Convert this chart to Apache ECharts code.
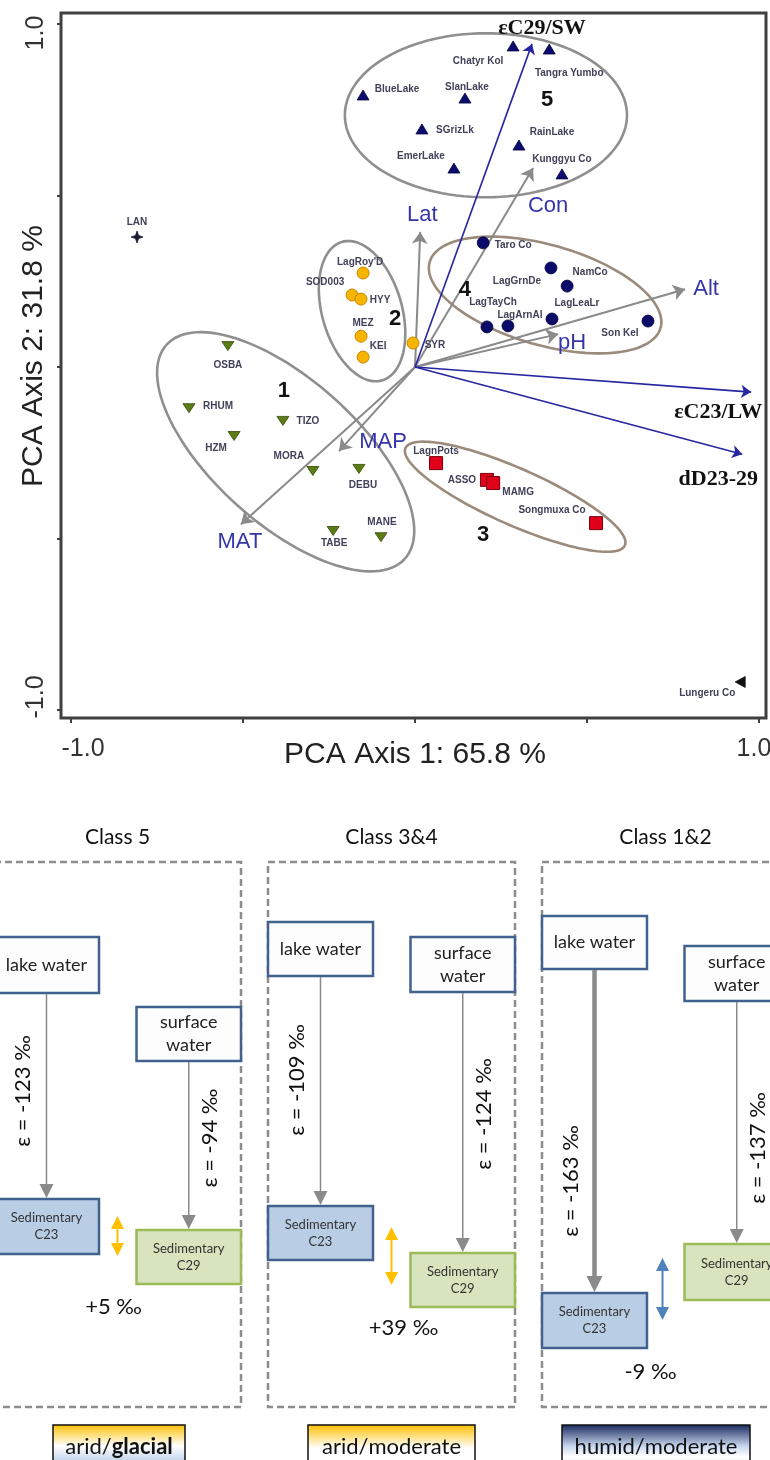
<!DOCTYPE html>
<html>
<head>
<meta charset="utf-8">
<script src="https://cdn.jsdelivr.net/npm/echarts@6/dist/echarts.min.js"></script>
<style>
  html, body { margin: 0; padding: 0; background: #fff; }
  #c { width: 770px; height: 1460px; }
</style>
</head>
<body>
<div id="c"></div>
<script>
// ---------- PCA sample scores (axis 1, axis 2) ----------
const class5Names = ['Chatyr Kol', 'Tangra Yumbo', 'BlueLake', 'SlanLake', 'SGrizLk', 'EmerLake', 'RainLake', 'Kunggyu Co'];
const class5Scores = [[0.285, 0.936], [0.390, 0.927], [-0.151, 0.793], [0.145, 0.784], [0.020, 0.694], [0.113, 0.580], [0.302, 0.647], [0.427, 0.563]];

const class2Names = ["LagRoy'D", 'SOD003', 'HYY', 'MEZ', 'KEI', 'SYR'];
const class2Scores = [[-0.151, 0.274], [-0.183, 0.210], [-0.157, 0.198], [-0.157, 0.090], [-0.151, 0.029], [-0.006, 0.070]];

const class4Names = ['Taro Co', 'LagGrnDe', 'NamCo', 'LagTayCh', 'LagArnAl', 'LagLeaLr', 'Son Kel'];
const class4Scores = [[0.198, 0.362], [0.395, 0.289], [0.442, 0.236], [0.209, 0.117], [0.270, 0.120], [0.398, 0.140], [0.677, 0.134]];

const class1Names = ['OSBA', 'RHUM', 'HZM', 'TIZO', 'MORA', 'DEBU', 'TABE', 'MANE'];
const class1Scores = [[-0.544, 0.061], [-0.657, -0.120], [-0.526, -0.201], [-0.384, -0.157], [-0.297, -0.303], [-0.163, -0.297], [-0.238, -0.478], [-0.099, -0.496]];

const class3Names = ['LagnPots', 'ASSO', 'MAMG', 'Songmuxa Co'];
const class3Scores = [[0.061, -0.280], [0.209, -0.329], [0.227, -0.338], [0.526, -0.455]];

const otherNames = ['LAN', 'Lungeru Co'];
const otherScores = [[-0.808, 0.379], [0.945, -0.918]];

// ---------- variable loadings ----------
const envNames = ['Lat', 'Con', 'Alt', 'pH', 'MAP', 'MAT'];
const envLoadings = [[0.015, 0.394], [0.343, 0.580], [0.785, 0.227], [0.416, 0.096], [-0.221, -0.245], [-0.506, -0.458]];
const isoNames = ['εC29/SW', 'εC23/LW', 'dD23-29'];
const isoLoadings = [[0.340, 0.942], [0.977, -0.073], [0.951, -0.254]];

// ---------- class envelopes: centre, semi-axes, tilt (deg) ----------
const clusterNames = ['1', '2', '3', '4', '5'];
const clusterCentres = [[-0.376, -0.247], [-0.154, 0.163], [0.291, -0.378], [0.378, 0.210], [0.206, 0.734]];
const clusterAxes = [[0.466, 0.210], [0.210, 0.116], [0.349, 0.082], [0.349, 0.146], [0.410, 0.239]];
const clusterAngles = [-42, 106, -24, -16, 0];
const clusterLabelAt = [[-0.381, -0.070], [-0.058, 0.140], [0.198, -0.490], [0.145, 0.224], [0.384, 0.778]];

// ---------- axis ticks ----------
const tickValues = [-1, -0.5, 0, 0.5, 1];
const tickText = { '-1': '-1.0', '1': '1.0' };

// ---------- fractionation scheme ----------
const classTitles = ['Class 5', 'Class 3&4', 'Class 1&2'];
const epsLake = [-123, -109, -163];
const epsSurface = [-94, -124, -137];
const offsetC23C29 = [5, 39, -9];
const climateMoisture = ['arid/', 'arid/', 'humid/'];
const climateTemp = ['glacial', 'moderate', 'moderate'];

// ---------- layout helpers (pixel nudges for text) ----------
const labelNudge = {
  'Chatyr Kol': [-35, 15], 'Tangra Yumbo': [20, 24], 'BlueLake': [34, -6], 'SlanLake': [2, -11],
  'SGrizLk': [33, 1], 'EmerLake': [-33, -12], 'RainLake': [33, -13], 'Kunggyu Co': [0, -15],
  "LagRoy'D": [-3, -11], 'SOD003': [-27, -13], 'HYY': [19, 1], 'MEZ': [2, -13], 'KEI': [15, -11], 'SYR': [22, 2],
  'Taro Co': [30, 2], 'LagGrnDe': [-34, 13], 'NamCo': [23, -14], 'LagTayCh': [6, -25], 'LagArnAl': [12, -11],
  'LagLeaLr': [25, -16], 'Son Kel': [-28, 12],
  'OSBA': [0, 19], 'RHUM': [29, -2], 'HZM': [-18, 12], 'TIZO': [25, 0], 'MORA': [-24, -15], 'DEBU': [4, 16],
  'TABE': [1, 12], 'MANE': [1, -15],
  'LagnPots': [0, -12], 'ASSO': [-25, 0], 'MAMG': [25, 9], 'Songmuxa Co': [-44, -13],
  'LAN': [0, -15], 'Lungeru Co': [-33, 11]
};
const loadLabelNudge = {
  'Lat': [2, -17], 'Con': [15, 38], 'Alt': [21, 0], 'pH': [14, 9], 'MAP': [44, -9], 'MAT': [-1, 18],
  'εC29/SW': [10, -16], 'εC23/LW': [-33, 20], 'dD23-29': [-24, 25]
};
const clusterStroke = ['#8f8f8f', '#8f8f8f', '#9c8a7a', '#9c8a7a', '#8f8f8f'];

// vertical placement of the scheme elements (units below the top of the strip)
const panelRows = [
  { lake: [137, 193], surf: [207, 261], c23: [399, 454], c29: [430, 484], dbl: [416, 456], dblX: 0,  off: [-4, 507],  epsLakeY: 291, epsSurfY: 338, lakeW: 1.5, dblColor: '#ffc000', climX: 1.5, climW: 132, climGrad: [['#ffc000', 0], ['#ffffff', 0.5], ['#a9c2e4', 1]] },
  { lake: [122, 176], surf: [137, 192], c23: [406, 460], c29: [453, 507], dbl: [427, 485], dblX: 0,  off: [12, 528],  epsLakeY: 280, epsSurfY: 314, lakeW: 1.5, dblColor: '#ffc000', climX: 0, climW: 167, climGrad: [['#ffc000', 0], ['#ffffff', 0.55], ['#ffffff', 1]] },
  { lake: [116, 169], surf: [146, 201], c23: [493, 548], c29: [444, 500], dbl: [458, 520], dblX: -3, off: [-15, 572], epsLakeY: 381, epsSurfY: 348, lakeW: 4.5, dblColor: '#4f81bd', climX: -9.5, climW: 188, climGrad: [['#16255a', 0], ['#c6d6ee', 0.5], ['#ffffff', 0.75], ['#dbe6f4', 1]] }
];

const SANS = 'Liberation Sans';
const CAL = 'Lato';

function sampleSeries(names, scores, opts) {
  return {
    type: 'scatter', xAxisIndex: 0, yAxisIndex: 0, z: 5,
    symbol: opts.symbol, symbolSize: opts.size, symbolRotate: opts.rotate || 0,
    itemStyle: { color: opts.fill, borderColor: opts.edge, borderWidth: opts.edgeW || 0.8, opacity: 1 },
    label: {
      show: true, position: 'inside', formatter: '{b}', fontSize: 10, fontWeight: 'bold',
      fontFamily: SANS, color: '#41415a', align: 'center', verticalAlign: 'middle'
    },
    emphasis: { disabled: true },
    data: names.map((n, i) => ({ name: n, value: scores[i], label: { offset: labelNudge[n] || [0, 0] } }))
  };
}

function renderCluster(params, api) {
  const i = params.dataIndex;
  const c = clusterCentres[i], ax = clusterAxes[i], th = clusterAngles[i] * Math.PI / 180;
  const pts = [];
  for (let k = 0; k <= 120; k++) {
    const t = k / 120 * 2 * Math.PI;
    const u = ax[0] * Math.cos(t), v = ax[1] * Math.sin(t);
    pts.push(api.coord([c[0] + u * Math.cos(th) - v * Math.sin(th), c[1] + u * Math.sin(th) + v * Math.cos(th)]));
  }
  return { type: 'polyline', shape: { points: pts }, style: { fill: null, stroke: clusterStroke[i], lineWidth: 2.6 } };
}

function renderClusterLabel(params, api) {
  const p = api.coord([api.value(0), api.value(1)]);
  return { type: 'text', x: p[0], y: p[1], style: { text: clusterNames[params.dataIndex], fontSize: 22, fontWeight: 'bold', fontFamily: SANS, fill: '#111', align: 'center', verticalAlign: 'middle' } };
}

function loadLabelSeries(names, loads, style) {
  return {
    type: 'custom', coordinateSystem: 'cartesian2d', xAxisIndex: 0, yAxisIndex: 0, z: 6, silent: true,
    data: loads.map(p => [p[0], p[1]]),
    renderItem: (params, api) => {
      const n = names[params.dataIndex];
      const p = api.coord([api.value(0), api.value(1)]);
      const d = loadLabelNudge[n];
      return { type: 'text', x: p[0] + d[0], y: p[1] + d[1], style: Object.assign({ text: n, align: 'center', verticalAlign: 'middle' }, style) };
    }
  };
}

function renderPanel(params, api) {
  const i = params.dataIndex;
  const r = panelRows[i];
  const cx = api.coord([i, 0])[0];
  const Y = v => api.coord([i, v])[1];
  const kids = [];
  const text = (x, y, t, size, opt) => kids.push({
    type: 'text', x, y, rotation: (opt && opt.rot) || 0,
    style: { text: t, fontSize: size, fontFamily: CAL, fontWeight: (opt && opt.weight) || 'normal', fill: (opt && opt.fill) || '#111', align: 'center', verticalAlign: 'middle' }
  });
  const rect = (x, y, w, h, fill, stroke, lw, dash) => kids.push({
    type: 'rect', shape: { x, y, width: w, height: h },
    style: { fill, stroke, lineWidth: lw, lineDash: dash || null }
  });
  const down = (x, yFrom, yTip, w, color, hw, hh) => {
    kids.push({ type: 'line', shape: { x1: x, y1: yFrom, x2: x, y2: yTip - hh + 1 }, style: { stroke: color, lineWidth: w } });
    kids.push({ type: 'polygon', shape: { points: [[x - hw, yTip - hh], [x + hw, yTip - hh], [x, yTip]] }, style: { fill: color } });
  };

  // title and dashed frame
  text(cx, Y(37), classTitles[i], 21);
  rect(cx - 123.5, Y(62), 247, Y(607) - Y(62), null, '#8c8c8c', 2.5, [7, 4]);

  const lx = cx - 123.5, lw = 105, sx = cx + 19, sw = 104.5;
  // water sources
  rect(lx, Y(r.lake[0]), lw, Y(r.lake[1]) - Y(r.lake[0]), '#fdfdfd', '#41618f', 2.5);
  text(lx + lw / 2, (Y(r.lake[0]) + Y(r.lake[1])) / 2, 'lake water', 18, { fill: '#222' });
  rect(sx, Y(r.surf[0]), sw, Y(r.surf[1]) - Y(r.surf[0]), '#fdfdfd', '#41618f', 2.5);
  const sMid = (Y(r.surf[0]) + Y(r.surf[1])) / 2;
  text(sx + sw / 2, sMid - 11.5, 'surface', 18, { fill: '#222' });
  text(sx + sw / 2, sMid + 11.5, 'water', 18, { fill: '#222' });

  // fractionation arrows
  down(lx + lw / 2, Y(r.lake[1]) + 1, Y(r.c23[0]) - 1, r.lakeW, '#8a8a8a', r.lakeW > 2 ? 8 : 7, r.lakeW > 2 ? 16 : 14);
  down(sx + sw / 2, Y(r.surf[1]) + 1, Y(r.c29[0]) - 1, 1.5, '#8a8a8a', 7, 14);

  // sedimentary n-alkanes
  rect(lx, Y(r.c23[0]), lw, Y(r.c23[1]) - Y(r.c23[0]), '#b9cde5', '#41618f', 2.5);
  const aMid = (Y(r.c23[0]) + Y(r.c23[1])) / 2;
  text(lx + lw / 2, aMid - 8.5, 'Sedimentary', 13, { fill: '#333' });
  text(lx + lw / 2, aMid + 8.5, 'C23', 13, { fill: '#333' });
  rect(sx, Y(r.c29[0]), sw, Y(r.c29[1]) - Y(r.c29[0]), '#d7e4bd', '#9bbb59', 2.5);
  const bMid = (Y(r.c29[0]) + Y(r.c29[1])) / 2;
  text(sx + sw / 2, bMid - 8.5, 'Sedimentary', 13, { fill: '#333' });
  text(sx + sw / 2, bMid + 8.5, 'C29', 13, { fill: '#333' });

  // offset between C23 and C29
  const dx = cx + r.dblX, d0 = Y(r.dbl[0]), d1 = Y(r.dbl[1]);
  kids.push({ type: 'line', shape: { x1: dx, y1: d0 + 12, x2: dx, y2: d1 - 12 }, style: { stroke: r.dblColor, lineWidth: 2 } });
  kids.push({ type: 'polygon', shape: { points: [[dx - 6.5, d0 + 13], [dx + 6.5, d0 + 13], [dx, d0]] }, style: { fill: r.dblColor } });
  kids.push({ type: 'polygon', shape: { points: [[dx - 6.5, d1 - 13], [dx + 6.5, d1 - 13], [dx, d1]] }, style: { fill: r.dblColor } });
  const off = offsetC23C29[i];
  text(cx + r.off[0], Y(r.off[1]), (off > 0 ? '+' : '') + off + ' ‰', 22);

  // epsilon values
  text(cx - 95, Y(r.epsLakeY), 'ε = ' + epsLake[i] + ' ‰', 22, { rot: Math.PI / 2 });
  text(cx + 92, Y(r.epsSurfY), 'ε = ' + epsSurface[i] + ' ‰', 22, { rot: Math.PI / 2 });

  // climate tag
  const cw = r.climW, ctop = Y(625);
  kids.push({
    type: 'rect', shape: { x: cx + r.climX - cw / 2, y: ctop, width: cw, height: 42 },
    style: {
      fill: new echarts.graphic.LinearGradient(0, 0, 0, 1, r.climGrad.map(g => ({ offset: g[1], color: g[0] }))),
      stroke: '#111', lineWidth: 1.5
    }
  });
  kids.push({
    type: 'text', x: cx + r.climX, y: Y(647),
    style: {
      text: '{a|' + climateMoisture[i] + '}{' + (i === 0 ? 'b' : 'a') + '|' + climateTemp[i] + '}',
      align: 'center', verticalAlign: 'middle',
      rich: {
        a: { fontSize: 22, fontFamily: CAL, fill: '#111' },
        b: { fontSize: 22, fontFamily: CAL, fontWeight: 'bold', fill: '#111' }
      }
    }
  });
  return { type: 'group', children: kids };
}

const axisFontX = { fontSize: 25, fontFamily: SANS, color: '#333' };

const option = {
  animation: false,
  backgroundColor: '#fff',
  grid: [
    { left: 61, right: 4, top: 13, bottom: 742, show: true, borderColor: '#404040', borderWidth: 3, backgroundColor: 'transparent', containLabel: false, outerBoundsMode: 'none' },
    { left: 71, right: 11, top: 24, bottom: 750, containLabel: false, outerBoundsMode: 'none' },
    { left: 0, right: 0, top: 800, bottom: 0, containLabel: false, outerBoundsMode: 'none' }
  ],
  xAxis: [
    { gridIndex: 0, type: 'value', min: -1.029, max: 1.020, show: false },
    {
      gridIndex: 1, type: 'value', min: tickValues[0], max: tickValues[tickValues.length - 1], interval: 0.5,
      offset: 8, position: 'bottom',
      axisLine: { show: false, onZero: false }, splitLine: { show: false },
      axisTick: { show: true, length: 5, lineStyle: { color: '#404040', width: 2 } },
      axisLabel: {
        margin: 19,
        formatter: v => v === -1 ? '{lo|' + tickText['-1'] + '}' : (v === 1 ? '{hi|' + tickText['1'] + '}' : ''),
        rich: {
          lo: Object.assign({ padding: [0, 0, 0, 24] }, axisFontX),
          hi: Object.assign({ padding: [0, 10, 0, 0] }, axisFontX)
        }
      },
      name: 'PCA Axis 1: 65.8 %', nameLocation: 'middle', nameGap: 22, nameMoveOverlap: false,
      nameTextStyle: { fontSize: 30, fontFamily: SANS, color: '#222' }
    },
    { gridIndex: 2, type: 'value', min: -117.5 / 274, max: 652.5 / 274, show: false }
  ],
  yAxis: [
    { gridIndex: 0, type: 'value', min: -1.023, max: 1.032, show: false },
    {
      gridIndex: 1, type: 'value', min: tickValues[0], max: tickValues[tickValues.length - 1], interval: 0.5,
      offset: 9, position: 'left',
      axisLine: { show: false, onZero: false }, splitLine: { show: false },
      axisTick: { show: true, length: 5, lineStyle: { color: '#404040', width: 2 } },
      axisLabel: {
        margin: 13, rotate: 90,
        formatter: v => v === -1 ? '{lo|' + tickText['-1'] + '}' : (v === 1 ? '{hi|' + tickText['1'] + '}' : ''),
        rich: {
          lo: Object.assign({ padding: [0, 0, 0, 26] }, axisFontX),
          hi: Object.assign({ padding: [0, 18, 0, 0] }, axisFontX)
        }
      },
      name: 'PCA Axis 2: 31.8 %', nameLocation: 'middle', nameGap: 13, nameMoveOverlap: false,
      nameTextStyle: { fontSize: 30, fontFamily: SANS, color: '#222', padding: [0, 0, 0, 22] }
    },
    { gridIndex: 2, type: 'value', min: 0, max: 660, inverse: true, show: false }
  ],
  series: [
    {
      type: 'custom', coordinateSystem: 'cartesian2d', xAxisIndex: 0, yAxisIndex: 0, z: 1, silent: true,
      data: clusterCentres.map(c => [c[0], c[1]]), renderItem: renderCluster
    },
    {
      type: 'lines', coordinateSystem: 'cartesian2d', xAxisIndex: 0, yAxisIndex: 0, z: 3, silent: true,
      symbol: ['none', 'arrow'], symbolSize: 12,
      lineStyle: { color: '#8a8a8a', width: 2, opacity: 1 },
      data: envLoadings.map(p => ({ coords: [[0, 0], p] }))
    },
    {
      type: 'lines', coordinateSystem: 'cartesian2d', xAxisIndex: 0, yAxisIndex: 0, z: 3, silent: true,
      symbol: ['none', 'arrow'], symbolSize: 10,
      lineStyle: { color: '#2626a3', width: 1.6, opacity: 1 },
      data: isoLoadings.map(p => ({ coords: [[0, 0], p] }))
    },
    sampleSeries(class5Names, class5Scores, { symbol: 'triangle', size: [12, 10], fill: '#0c0c6e', edge: '#05053f' }),
    sampleSeries(class4Names, class4Scores, { symbol: 'circle', size: 12, fill: '#0b0b6a', edge: '#04043a' }),
    sampleSeries(class2Names, class2Scores, { symbol: 'circle', size: 12, fill: '#f7b500', edge: '#c98600', edgeW: 1 }),
    sampleSeries(class1Names, class1Scores, { symbol: 'triangle', size: [12, 9], rotate: 180, fill: '#5c7c16', edge: '#36490a' }),
    sampleSeries(class3Names, class3Scores, { symbol: 'rect', size: 13, fill: '#e0001a', edge: '#7a0010', edgeW: 1 }),
    sampleSeries(otherNames.slice(0, 1), otherScores.slice(0, 1), { symbol: 'path://M0,-10L2.6,-2.6L10,0L2.6,2.6L0,10L-2.6,2.6L-10,0L-2.6,-2.6Z', size: 12, fill: '#1b1b33', edge: '#1b1b33' }),
    sampleSeries(otherNames.slice(1), otherScores.slice(1), { symbol: 'triangle', size: [11, 10], rotate: 90, fill: '#111', edge: '#111' }),
    loadLabelSeries(envNames, envLoadings, { fontSize: 22, fontFamily: SANS, fill: '#3535aa' }),
    loadLabelSeries(isoNames, isoLoadings, { fontSize: 22, fontFamily: 'Liberation Serif', fontWeight: 'bold', fill: '#111' }),
    {
      type: 'custom', coordinateSystem: 'cartesian2d', xAxisIndex: 0, yAxisIndex: 0, z: 6, silent: true,
      data: clusterLabelAt.map(p => [p[0], p[1]]), renderItem: renderClusterLabel
    },
    {
      type: 'custom', coordinateSystem: 'cartesian2d', xAxisIndex: 2, yAxisIndex: 2, z: 2, silent: true,
      clip: false,
      data: classTitles.map((t, i) => [i, 0]), renderItem: renderPanel
    }
  ]
};

const chart = echarts.init(document.getElementById('c'), null, { renderer: 'canvas' });
chart.setOption(option);
</script>
</body>
</html>
